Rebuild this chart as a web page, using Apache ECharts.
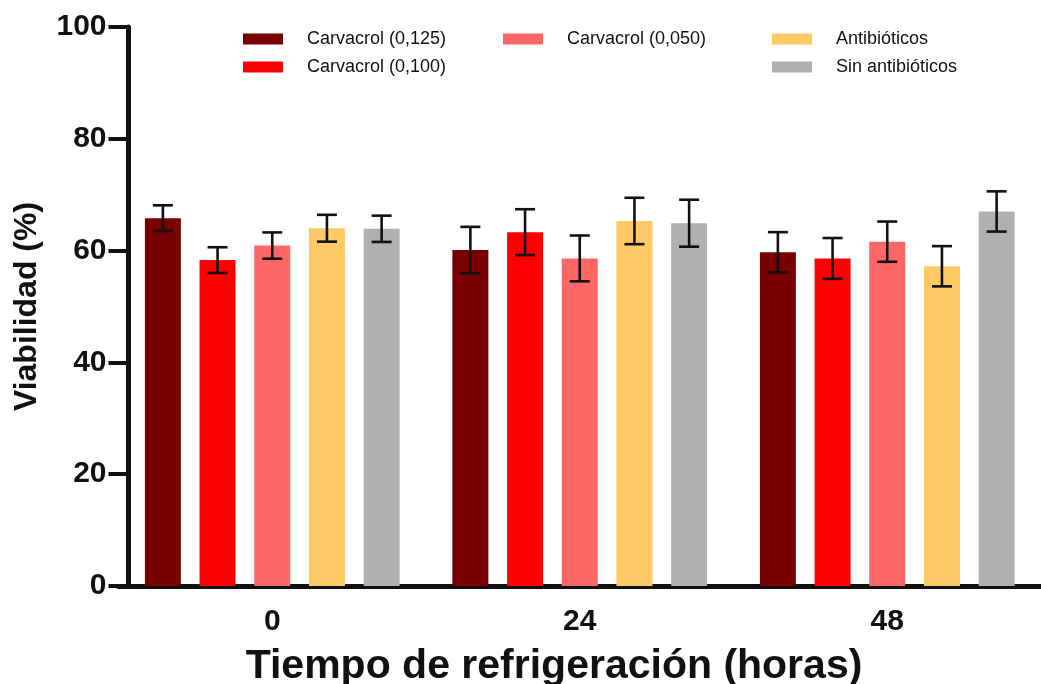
<!DOCTYPE html>
<html>
<head>
<meta charset="utf-8">
<script src="https://cdn.jsdelivr.net/npm/echarts@6/dist/echarts.min.js"></script>
<style>html,body{margin:0;padding:0;background:#fff;}#c{width:1041px;height:684px;}</style>
</head>
<body>
<div id="c"></div>
<script>
const categories = ['0', '24', '48'];
const seriesNames = ['Carvacrol (0,125)', 'Carvacrol (0,100)', 'Carvacrol (0,050)', 'Antibióticos', 'Sin antibióticos'];
const carvacrol0125 = [65.8, 60.1, 59.7];
const carvacrol0100 = [58.3, 63.3, 58.6];
const carvacrol0050 = [60.9, 58.6, 61.6];
const antibioticos = [64.0, 65.3, 57.2];
const sinAntibioticos = [63.9, 64.9, 67.0];
const err0125 = [2.3, 4.15, 3.6];
const err0100 = [2.3, 4.1, 3.65];
const err0050 = [2.35, 4.1, 3.6];
const errAntibioticos = [2.4, 4.15, 3.6];
const errSinAntibioticos = [2.35, 4.2, 3.6];
const yTicks = [0, 20, 40, 60, 80, 100];

const means = [carvacrol0125, carvacrol0100, carvacrol0050, antibioticos, sinAntibioticos];
const errs = [err0125, err0100, err0050, errAntibioticos, errSinAntibioticos];
const colors = ['#780000', '#ff0000', '#ff6666', '#ffc966', '#b0b0b0'];
const FONT = 'Liberation Sans, Arial, sans-serif';

const errData = [];
means.forEach((arr, s) => arr.forEach((v, c) => {
  errData.push([c, v - errs[s][c], v + errs[s][c], s]);
}));

function renderErr(params, api) {
  const c = api.value(0), s = api.value(3);
  const lo = api.coord([c, api.value(1)]);
  const hi = api.coord([c, api.value(2)]);
  const band = api.size([1, 0])[0];
  const step = band * 0.117 * 1.52;
  const x = lo[0] + (s - 2) * step;
  const cap = 10;
  const st = { stroke: '#111', lineWidth: 2.6 };
  return { type: 'group', children: [
    { type: 'line', shape: { x1: x, y1: hi[1], x2: x, y2: lo[1] }, style: st },
    { type: 'line', shape: { x1: x - cap, y1: hi[1], x2: x + cap, y2: hi[1] }, style: st },
    { type: 'line', shape: { x1: x - cap, y1: lo[1], x2: x + cap, y2: lo[1] }, style: st }
  ]};
}

const legendBase = {
  orient: 'vertical', icon: 'rect', itemWidth: 40, itemHeight: 11, itemGap: 10, top: 25,
  textStyle: { fontSize: 18, fontFamily: FONT, color: '#111', lineHeight: 18, padding: [0, 0, 0, 19] }
};

const chart = echarts.init(document.getElementById('c'));
chart.setOption({
  backgroundColor: '#fff',
  animation: false,
  color: colors,
  title: {
    text: 'Tiempo de refrigeración (horas)', left: 549, top: 641, textAlign: 'center',
    textStyle: { fontSize: 41, fontWeight: 'bold', fontFamily: FONT, color: '#111' }
  },
  legend: [
    Object.assign({}, legendBase, { left: 238, data: [seriesNames[0], seriesNames[1]] }),
    Object.assign({}, legendBase, { left: 498, data: [seriesNames[2]] }),
    Object.assign({}, legendBase, { left: 767, data: [seriesNames[3], seriesNames[4]] })
  ],
  grid: { left: 118.5, top: 27, width: 939, height: 559, containLabel: false },
  xAxis: {
    type: 'category', data: categories,
    axisLine: { lineStyle: { color: '#111', width: 5 } },
    axisTick: { alignWithLabel: true, length: 17, lineStyle: { color: '#111', width: 4 } },
    axisLabel: { fontSize: 30, fontWeight: 'bold', fontFamily: FONT, color: '#111', margin: 21 }
  },
  yAxis: {
    type: 'value', min: 0, max: 100, interval: 20, offset: -10,
    axisLine: { show: true, lineStyle: { color: '#111', width: 5 } },
    axisTick: { show: true, length: 20, lineStyle: { color: '#111', width: 4 } },
    axisLabel: { fontSize: 30, fontWeight: 'bold', fontFamily: FONT, color: '#111', margin: 22,
      formatter: v => yTicks.includes(v) ? String(v) : '' },
    splitLine: { show: false },
    name: 'Viabilidad (%)', nameLocation: 'middle', nameGap: 85, nameRotate: 90,
    nameTextStyle: { fontSize: 32, fontWeight: 'bold', fontFamily: FONT, color: '#111' }
  },
  series: means.map((arr, s) => ({
    type: 'bar', name: seriesNames[s], data: arr, barWidth: '11.7%', barGap: '52%',
    itemStyle: { color: colors[s] }
  })).concat([{
    type: 'custom', name: 'err', renderItem: renderErr, data: errData,
    encode: { x: 0, y: [1, 2] }, z: 10, silent: true
  }])
});
</script>
</body>
</html>
